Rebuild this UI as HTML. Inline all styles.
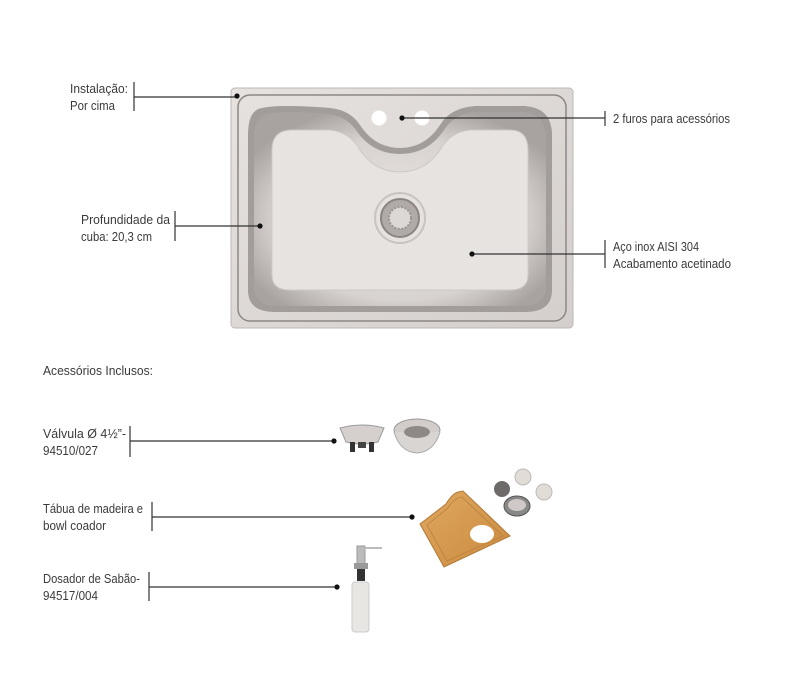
<!DOCTYPE html>
<html><head><meta charset="utf-8"><style>
html,body{margin:0;padding:0;background:#fff}
svg{display:block}
text{font-family:"Liberation Sans",sans-serif;font-size:13px;fill:#3a3a3a}
</style></head><body>
<svg width="800" height="687" viewBox="0 0 800 687" xmlns="http://www.w3.org/2000/svg">
<defs>
<linearGradient id="rim" x1="0" y1="0" x2="1" y2="1"><stop offset="0" stop-color="#e6e2e0"/><stop offset="1" stop-color="#d4cfcd"/></linearGradient>
<radialGradient id="bowl" cx="0.5" cy="0.55" r="0.6"><stop offset="0" stop-color="#e8e4e2"/><stop offset="0.7" stop-color="#d8d3d1"/><stop offset="1" stop-color="#a8a2a0"/></radialGradient>
<linearGradient id="wood" x1="0" y1="0" x2="1" y2="1"><stop offset="0" stop-color="#e0a860"/><stop offset="1" stop-color="#c98a3e"/></linearGradient>
</defs>
<rect x="231" y="88" width="342" height="240" rx="4" fill="url(#rim)" stroke="#bdb7b5"/>
<rect x="238" y="95" width="328" height="226" rx="12" fill="none" stroke="#8d8786" stroke-width="1.5"/>
<path d="M262 108 Q280 104 330 108 Q350 110 360 125 Q375 148 400 148 Q425 148 440 125 Q450 108 475 106 L525 106 Q552 108 552 135 L552 290 Q552 312 525 312 L275 312 Q248 312 248 290 L248 135 Q248 110 262 108Z" fill="#a29c9a"/>
<path d="M268 114 Q285 110 328 114 Q346 116 356 130 Q372 154 400 154 Q428 154 444 130 Q454 114 476 112 L522 112 Q546 114 546 138 L546 287 Q546 306 522 306 L278 306 Q254 306 254 287 L254 138 Q254 116 268 114Z" fill="url(#bowl)"/>
<path d="M292 130 L330 130 Q350 132 360 150 Q375 172 400 172 Q425 172 440 150 Q450 132 470 130 L510 130 Q528 130 528 150 L528 275 Q528 290 510 290 L290 290 Q272 290 272 275 L272 150 Q272 130 292 130Z" fill="#e7e3e1" stroke="#cdc8c6"/>
<circle cx="400" cy="218" r="25" fill="#e6e2e0" stroke="#c8c2c0" stroke-width="2"/>
<circle cx="400" cy="218" r="19" fill="#b0aaa8" stroke="#8a8482" stroke-width="2"/>
<circle cx="400" cy="218" r="11" fill="#dcd8d6" stroke="#9a9492" stroke-width="2" stroke-dasharray="2 1.5"/>
<circle cx="379" cy="118" r="7.5" fill="#fff"/>
<circle cx="422" cy="118" r="7.5" fill="#fff"/>
<g stroke="#333" stroke-width="1.2" fill="none">
<line x1="134" y1="82" x2="134" y2="111"/><line x1="134" y1="97" x2="238" y2="97"/>
<line x1="175" y1="211" x2="175" y2="241"/><line x1="175" y1="226" x2="260" y2="226"/>
<line x1="605" y1="111" x2="605" y2="126"/><line x1="402" y1="118" x2="605" y2="118"/>
<line x1="605" y1="240" x2="605" y2="268"/><line x1="472" y1="254" x2="605" y2="254"/>
<line x1="130" y1="426" x2="130" y2="457"/><line x1="130" y1="441" x2="334" y2="441"/>
<line x1="152" y1="502" x2="152" y2="531"/><line x1="152" y1="517" x2="412" y2="517"/>
<line x1="149" y1="572" x2="149" y2="601"/><line x1="149" y1="587" x2="337" y2="587"/>
</g>
<g fill="#111">
<circle cx="237" cy="96" r="2.6"/><circle cx="260" cy="226" r="2.6"/><circle cx="402" cy="118" r="2.6"/><circle cx="472" cy="254" r="2.6"/>
<circle cx="334" cy="441" r="2.6"/><circle cx="412" cy="517" r="2.6"/><circle cx="337" cy="587" r="2.6"/>
</g>
<text x="70" y="93" textLength="58" lengthAdjust="spacingAndGlyphs">Instalação:</text>
<text x="70" y="110" textLength="45" lengthAdjust="spacingAndGlyphs">Por cima</text>
<text x="81" y="224" textLength="89" lengthAdjust="spacingAndGlyphs">Profundidade da</text>
<text x="81" y="241" textLength="71" lengthAdjust="spacingAndGlyphs">cuba: 20,3 cm</text>
<text x="613" y="123" textLength="117" lengthAdjust="spacingAndGlyphs">2 furos para acessórios</text>
<text x="613" y="251" textLength="86" lengthAdjust="spacingAndGlyphs">Aço inox AISI 304</text>
<text x="613" y="268" textLength="118" lengthAdjust="spacingAndGlyphs">Acabamento acetinado</text>
<text x="43" y="375" textLength="110" lengthAdjust="spacingAndGlyphs">Acessórios Inclusos:</text>
<text x="43" y="438" textLength="83" lengthAdjust="spacingAndGlyphs">Válvula  Ø 4½”-</text>
<text x="43" y="455" textLength="55" lengthAdjust="spacingAndGlyphs">94510/027</text>
<text x="43" y="513" textLength="100" lengthAdjust="spacingAndGlyphs">Tábua de madeira e</text>
<text x="43" y="530" textLength="63" lengthAdjust="spacingAndGlyphs">bowl coador</text>
<text x="43" y="583" textLength="97" lengthAdjust="spacingAndGlyphs">Dosador de Sabão-</text>
<text x="43" y="600" textLength="55" lengthAdjust="spacingAndGlyphs">94517/004</text>
<path d="M340 428 Q362 422 384 428 L378 442 Q362 446 346 442Z" fill="#d5d0ce" stroke="#999"/>
<rect x="350" y="442" width="5" height="10" fill="#333"/><rect x="369" y="442" width="5" height="10" fill="#333"/><rect x="358" y="442" width="8" height="6" fill="#444"/>
<ellipse cx="417" cy="430" rx="23" ry="11" fill="#d2cdcb" stroke="#999"/>
<path d="M394 432 Q400 452 417 453 Q434 452 440 432" fill="#d9d5d3" stroke="#aaa"/>
<ellipse cx="417" cy="432" rx="13" ry="6" fill="#8e8886"/>
<path d="M420 524 L446 504 Q452 494 458 492 L463 491 L510 536 L444 567 Z" fill="url(#wood)" stroke="#b07838"/>
<path d="M427 525 L448 508 Q454 498 462 497 L503 536 L447 561 Z" fill="none" stroke="#b98040" stroke-width="0.8"/>
<ellipse cx="482" cy="534" rx="12" ry="9" fill="#fff"/>
<circle cx="502" cy="489" r="8" fill="#6e6a69"/>
<circle cx="523" cy="477" r="8" fill="#e2dcd6" stroke="#bbb"/>
<circle cx="544" cy="492" r="8" fill="#e2dcd6" stroke="#bbb"/>
<ellipse cx="517" cy="506" rx="13" ry="10" fill="#888" stroke="#555"/>
<ellipse cx="517" cy="505" rx="9" ry="6" fill="#cfcac8"/>
<rect x="357" y="546" width="8" height="18" fill="#bbb" stroke="#999"/>
<rect x="362" y="547" width="20" height="2" fill="#bbb"/>
<rect x="354" y="563" width="14" height="6" fill="#999"/>
<rect x="357" y="569" width="8" height="12" fill="#333"/>
<rect x="352" y="582" width="17" height="50" rx="3" fill="#e8e6e2" stroke="#ccc"/>
</svg>
</body></html>
